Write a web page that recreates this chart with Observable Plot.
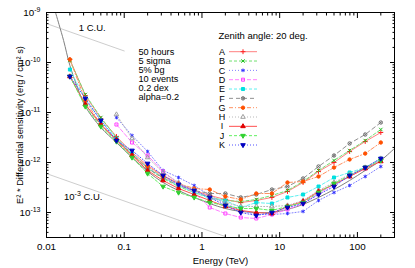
<!DOCTYPE html>
<html>
<head>
<meta charset="utf-8">
<script src="https://cdn.jsdelivr.net/npm/d3@7"></script>
<script src="https://cdn.jsdelivr.net/npm/@observablehq/plot@0.6"></script>
<style>
html,body{margin:0;padding:0;background:#fff;}
</style>
</head>
<body>
<div id="chart"></div>
<script>
// ---------- data ----------
const energies = [0.02, 0.0316, 0.05, 0.0794, 0.126, 0.2, 0.316, 0.5, 0.794, 1.26, 2, 3.16, 5, 7.94, 12.6, 20, 31.6, 50, 79.4, 126, 200];
const seriesNames = ["A","B","C","D","E","F","G","H","I","J","K"];
const sensA = [1.15e-10, 2.19e-11, 7.59e-12, 3.31e-12, 1.58e-12, 8.71e-13, 5.50e-13, 3.80e-13, 2.75e-13, 2.19e-13, 1.82e-13, 1.58e-13, 1.74e-13, 2.00e-13, 2.63e-13, 3.98e-13, 6.61e-13, 1.00e-12, 1.66e-12, 2.63e-12, 3.98e-12];
const sensB = [1.10e-10, 2.29e-11, 7.94e-12, 3.16e-12, 1.45e-12, 7.59e-13, 4.79e-13, 3.31e-13, 2.51e-13, 2.00e-13, 1.74e-13, 1.66e-13, 1.82e-13, 2.19e-13, 2.75e-13, 4.17e-13, 6.92e-13, 1.10e-12, 1.74e-12, 2.75e-12, 4.57e-12];
const sensC = [null, null, null, 7.94e-12, 3.47e-12, 1.66e-12, 6.92e-13, 5.01e-13, 3.47e-13, 2.19e-13, 1.51e-13, 1.10e-13, 9.12e-14, 9.12e-14, 9.55e-14, 1.05e-13, 1.74e-13, 2.51e-13, 3.47e-13, 5.25e-13, 8.32e-13];
const sensD = [null, null, null, 5.75e-12, 2.51e-12, 1.38e-12, 6.61e-13, 3.80e-13, 2.51e-13, 1.26e-13, 9.55e-14, 7.94e-14, 7.59e-14, 9.12e-14, 1.15e-13, 1.51e-13, 2.40e-13, 3.63e-13, 5.25e-13, 7.59e-13, 1.10e-12];
const sensE = [7.24e-11, 1.82e-11, 6.92e-12, 3.02e-12, 1.51e-12, 7.94e-13, 5.01e-13, 3.47e-13, 2.51e-13, 1.91e-13, 1.74e-13, 1.26e-13, 1.58e-13, 1.51e-13, 2.00e-13, 2.29e-13, 3.31e-13, 5.01e-13, 6.31e-13, 7.94e-13, 1.20e-12];
const sensF = [5.25e-11, 1.45e-11, 5.75e-12, 2.75e-12, 1.45e-12, 7.59e-13, 5.01e-13, 3.47e-13, 2.75e-13, 2.40e-13, 2.40e-13, 2.00e-13, 2.29e-13, 2.88e-13, 3.31e-13, 4.79e-13, 8.32e-13, 1.38e-12, 2.40e-12, 3.63e-12, 6.31e-12];
const sensG = [1.15e-10, 1.74e-11, 5.75e-12, 2.75e-12, 1.38e-12, 8.32e-13, 5.25e-13, 3.80e-13, 3.02e-13, 2.88e-13, 2.09e-13, 1.82e-13, 2.40e-13, 2.40e-13, 3.98e-13, 4.17e-13, 5.25e-13, 7.94e-13, 1.15e-12, 1.51e-12, 2.51e-12];
const sensH = [null, null, null, 9.12e-12, 3.02e-12, 1.26e-12, 6.31e-13, 3.98e-13, 2.75e-13, 2.00e-13, 1.58e-13, 1.32e-13, 1.32e-13, 1.32e-13, 1.38e-13, 1.74e-13, 2.75e-13, 3.98e-13, 5.75e-13, 7.94e-13, 1.20e-12];
const sensI = [5.25e-11, 1.45e-11, 5.75e-12, 2.88e-12, 1.38e-12, 6.92e-13, 4.37e-13, 3.02e-13, 2.29e-13, 1.74e-13, 1.32e-13, 1.10e-13, 1.00e-13, 9.55e-14, 1.32e-13, 1.66e-13, 2.63e-13, 3.63e-13, 5.25e-13, 7.59e-13, 1.05e-12];
const sensJ = [5.25e-11, 1.32e-11, 5.25e-12, 2.63e-12, 1.26e-12, 6.03e-13, 3.31e-13, 2.51e-13, 2.00e-13, 1.58e-13, 1.38e-13, 1.20e-13, 1.20e-13, 1.10e-13, 1.32e-13, 1.58e-13, 2.51e-13, 3.80e-13, 5.50e-13, 7.94e-13, 1.10e-12];
const sensK = [5.25e-11, 1.91e-11, 6.92e-12, 2.75e-12, 1.74e-12, 9.55e-13, 5.50e-13, 3.63e-13, 2.75e-13, 2.00e-13, 1.38e-13, 1.00e-13, 8.71e-14, 1.00e-13, 1.26e-13, 1.51e-13, 2.29e-13, 3.31e-13, 5.50e-13, 7.94e-13, 1.20e-12];
const sensitivity = [sensA, sensB, sensC, sensD, sensE, sensF, sensG, sensH, sensI, sensJ, sensK];

const refEnergies = [0.0125, 0.0145, 0.0166, 0.02, 0.025, 0.0316, 0.05, 0.0794, 0.126, 0.2, 0.316, 0.5, 0.794, 1.26, 2, 3.16, 5, 7.94, 12.6, 20, 31.6, 50, 79.4, 126, 200, 300];
const refSensitivity = [1.26e-9, 5.75e-10, 2.75e-10, 8.71e-11, 3.16e-11, 1.32e-11, 5.01e-12, 2.51e-12, 1.26e-12, 6.61e-13, 3.98e-13, 2.75e-13, 2.00e-13, 1.51e-13, 1.20e-13, 1.05e-13, 1.00e-13, 1.00e-13, 1.15e-13, 1.45e-13, 2.00e-13, 2.88e-13, 4.37e-13, 6.92e-13, 1.10e-12, 1.91e-12];

const crabEnergies = [0.01, 0.1];
const crabFlux = [6.0e-10, 1.7e-10];
const milliCrabEnergies = [0.01, 2];
const milliCrabFlux = [6.0e-13, 3.3e-14];

const xTickValues = [0.01, 0.1, 1, 10, 100];
const xTickLabels = ["0.01", "0.1", "1", "10", "100"];
const yTickValues = [1e-13, 1e-12, 1e-11, 1e-10, 1e-9];
const yTickLabels = ["10^-13", "10^-12", "10^-11", "10^-10", "10^-9"];

const infoLines = ["50 hours", "5 sigma", "5% bg", "10 events", "0.2 dex", "alpha=0.2"];
const legendTitle = "Zenith angle: 20 deg.";
const annotationText = ["1 C.U.", "10^-3 C.U."];
const annotationEnergy = [0.026, 0.0168];
const annotationFlux = [5.0e-10, 2.0e-13];
const xLabel = "Energy (TeV)";
const yLabel = "E² * Differential sensitivity (erg / cm² s)";

// ---------- styles ----------
const triDown = {
  draw(context, size) {
    const s3 = Math.sqrt(3);
    const y = -Math.sqrt(size / (s3 * 3));
    context.moveTo(0, -y * 2);
    context.lineTo(-s3 * y, y);
    context.lineTo(s3 * y, y);
    context.closePath();
  }
};
const circleX = {
  draw(context, size) {
    const r = Math.sqrt(size / Math.PI);
    context.moveTo(r, 0);
    context.arc(0, 0, r, 0, 2 * Math.PI);
    const k = r * 0.6;
    context.moveTo(-k, -k); context.lineTo(k, k);
    context.moveTo(-k, k); context.lineTo(k, -k);
  }
};
const seriesStyle = {
  A: {line: "#ff8080", mark: "#ff2020", dash: null,        sym: d3.symbolPlus,     filled: false},
  B: {line: "#70e070", mark: "#20c020", dash: "3,2",       sym: d3.symbolTimes,    filled: false},
  C: {line: "#8080ff", mark: "#3030ff", dash: "1,2",       sym: d3.symbolAsterisk, filled: false},
  D: {line: "#ff80ff", mark: "#ff40ff", dash: "4,2",       sym: d3.symbolSquare,   filled: false},
  E: {line: "#60f0f0", mark: "#00e0e0", dash: "3,2",       sym: d3.symbolSquare,   filled: true},
  F: {line: "#909090", mark: "#707070", dash: "4,3",       sym: circleX,           filled: false},
  G: {line: "#ff9060", mark: "#ff5000", dash: "4,2,1,2",   sym: d3.symbolCircle,   filled: true},
  H: {line: "#b8b8b8", mark: "#a0a0a0", dash: "1,2",       sym: d3.symbolTriangle, filled: false},
  I: {line: "#ff5050", mark: "#e00000", dash: null,        sym: d3.symbolTriangle, filled: true},
  J: {line: "#60f060", mark: "#30d030", dash: "3,2",       sym: triDown,           filled: true},
  K: {line: "#5050ff", mark: "#0000c0", dash: "1,2",       sym: triDown,           filled: true}
};
const markerR = 1.7;

// ---------- derived tables ----------
const seriesRows = seriesNames.map((s, i) =>
  energies.map((e, j) => ({s, e, v: sensitivity[i][j]})).filter(d => d.v != null));
const refRows = refEnergies.map((e, j) => ({e, v: refSensitivity[j]}));
const crabRows = crabEnergies.map((e, j) => ({e, v: crabFlux[j]}));
const milliCrabRows = milliCrabEnergies.map((e, j) => ({e, v: milliCrabFlux[j]}));
const annotations = annotationText.map((t, j) => ({t, e: annotationEnergy[j], v: annotationFlux[j]}));

const xMinor = [];
for (const dec of [0.01, 0.1, 1, 10, 100]) for (let m = 2; m <= 9; m++) if (dec * m <= 300) xMinor.push(dec * m);
const yMinor = [];
for (const dec of [1e-14, 1e-13, 1e-12, 1e-11, 1e-10]) for (let m = 2; m <= 9; m++) { const v = dec * m; if (v >= Math.pow(10, -13.5) && v <= 1e-9) yMinor.push(v); }

const font = "'Liberation Sans', Arial, Helvetica, sans-serif";

const seriesMarks = [];
seriesNames.forEach((s, i) => {
  const st = seriesStyle[s];
  seriesMarks.push(Plot.line(seriesRows[i], {x: "e", y: "v", stroke: st.line, strokeWidth: 1, strokeDasharray: st.dash}));
});
seriesNames.forEach((s, i) => {
  const st = seriesStyle[s];
  seriesMarks.push(Plot.dot(seriesRows[i], {x: "e", y: "v", symbol: st.sym, r: markerR,
    fill: st.filled ? st.mark : "none", stroke: st.mark, strokeWidth: 1}));
});

const infoMarks = infoLines.map((t, i) =>
  Plot.text([t], {text: d => d, frameAnchor: "top-left", dx: 92, dy: 36 + i * 8.9, lineAnchor: "top", textAnchor: "start", fontSize: 9.2}));

const chart = Plot.plot({
  width: 415,
  height: 268,
  marginLeft: 46,
  marginRight: 21,
  marginTop: 12,
  marginBottom: 31,
  style: {fontFamily: font, fontSize: "9.5px", background: "#fff", color: "#000"},
  x: {type: "log", domain: [0.01, 300]},
  y: {type: "log", domain: [Math.pow(10, -13.5), 1e-9]},
  marks: [
    Plot.line(crabRows, {x: "e", y: "v", stroke: "#c0c0c0", strokeWidth: 0.8, clip: true}),
    Plot.line(milliCrabRows, {x: "e", y: "v", stroke: "#c0c0c0", strokeWidth: 0.8, clip: true}),
    Plot.line(refRows, {x: "e", y: "v", stroke: "#808080", strokeWidth: 1, curve: "catmull-rom", clip: true}),
    ...seriesMarks,
    Plot.text(annotations, {x: "e", y: "v", text: "t", textAnchor: "start", fontSize: 9.5}),
    ...infoMarks,
    Plot.text([legendTitle], {text: d => d, frameAnchor: "top-left", dx: 172, dy: 23, lineAnchor: "middle", textAnchor: "start", fontSize: 9.5}),
    Plot.text([xLabel], {text: d => d, frameAnchor: "bottom", dy: 23, lineAnchor: "middle", textAnchor: "middle", fontSize: 9.5}),
    Plot.text([yLabel], {text: d => d, frameAnchor: "left", dx: -26, rotate: -90, lineAnchor: "middle", textAnchor: "middle", fontSize: 9.3}),
    Plot.frame({stroke: "#000", strokeWidth: 1}),
    Plot.axisX(xTickValues, {anchor: "bottom", tickSize: 0, tickPadding: 6, tickFormat: d => xTickLabels[xTickValues.indexOf(d)], label: null, fontSize: 9.8}),
    Plot.axisX(xTickValues, {anchor: "bottom", tickSize: -5, fill: "none", label: null}),
    Plot.axisX(xMinor, {anchor: "bottom", tickSize: -2.5, fill: "none", label: null}),
    Plot.axisX(xTickValues, {anchor: "top", tickSize: -5, fill: "none", label: null}),
    Plot.axisX(xMinor, {anchor: "top", tickSize: -2.5, fill: "none", label: null}),
    Plot.axisY(yTickValues, {anchor: "left", tickSize: 0, tickPadding: 6, tickFormat: d => yTickLabels[yTickValues.indexOf(d)], label: null, fontSize: 9.8}),
    Plot.axisY(yTickValues, {anchor: "left", tickSize: -5, fill: "none", label: null}),
    Plot.axisY(yMinor, {anchor: "left", tickSize: -2.5, fill: "none", label: null}),
    Plot.axisY(yTickValues, {anchor: "right", tickSize: -5, fill: "none", label: null}),
    Plot.axisY(yMinor, {anchor: "right", tickSize: -2.5, fill: "none", label: null})
  ]
});

document.getElementById("chart").appendChild(chart);

// superscripts: "a^b rest" -> a<sup>b</sup> rest
chart.querySelectorAll("text").forEach(t => {
  if (t.children.length) return;
  const s = t.textContent;
  const m = s.match(/^(.*?)\^(\S+)(.*)$/);
  if (!m) return;
  t.textContent = "";
  const ns = "http://www.w3.org/2000/svg";
  const a = document.createElementNS(ns, "tspan"); a.textContent = m[1]; t.appendChild(a);
  const b = document.createElementNS(ns, "tspan"); b.textContent = m[2];
  b.setAttribute("dy", "-4"); b.setAttribute("font-size", "7"); t.appendChild(b);
  if (m[3]) {
    const c = document.createElementNS(ns, "tspan"); c.textContent = m[3];
    c.setAttribute("dy", "4"); t.appendChild(c);
  }
});

// legend (letters, line samples, markers)
const legendLetterX = 222, legendLineX1 = 229, legendLineX2 = 257, legendTop = 51.7, legendStep = 9.33;
const lg = d3.select(chart).append("g").attr("font-family", font).attr("font-size", 9);
seriesNames.forEach((s, i) => {
  const st = seriesStyle[s];
  const cy = legendTop + i * legendStep;
  lg.append("text").attr("x", legendLetterX).attr("y", cy).attr("dy", "0.35em")
    .attr("text-anchor", "middle").attr("fill", "#000").text(s);
  lg.append("line").attr("x1", legendLineX1).attr("x2", legendLineX2).attr("y1", cy).attr("y2", cy)
    .attr("stroke", st.line).attr("stroke-width", 1).attr("stroke-dasharray", st.dash);
  lg.append("path").attr("transform", `translate(${(legendLineX1 + legendLineX2) / 2},${cy})`)
    .attr("d", d3.symbol(st.sym, markerR * markerR * Math.PI)())
    .attr("fill", st.filled ? st.mark : "none").attr("stroke", st.mark).attr("stroke-width", 1);
});
</script>
</body>
</html>
